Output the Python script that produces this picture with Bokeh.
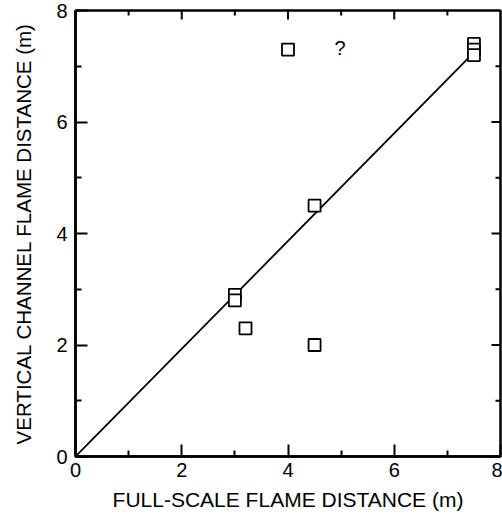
from bokeh.plotting import figure
from bokeh.models import FixedTicker, Range1d
from bokeh.core.properties import value
from bokeh.embed import file_html
from bokeh.resources import INLINE

# data
full_scale = [4.0, 7.5, 7.5, 7.5, 4.5, 3.0, 3.0, 3.2, 4.5]
vertical_channel = [7.3, 7.4, 7.3, 7.2, 4.5, 2.9, 2.8, 2.3, 2.0]
fit_x = [0.0, 7.45]
fit_y = [0.0, 7.2]
major_ticks = [0, 2, 4, 6, 8]
minor_ticks = [1, 3, 5, 7]
question_x = [4.98]
question_y = [7.33]

FONT = "Liberation Sans"
XMIN, XMAX, YMIN, YMAX = 0, 8, 0, 8

W, H = 502, 523
BL, BR, BT, BB = 75, 2, 10, 67
p = figure(width=W, height=H, output_backend="svg", toolbar_location=None,
           x_range=Range1d(XMIN, XMAX), y_range=Range1d(YMIN, YMAX),
           min_border_left=BL, min_border_right=BR, min_border_top=BT, min_border_bottom=BB)
p.grid.visible = False
p.outline_line_color = "black"
p.outline_line_width = 2.5

for ax in (p.xaxis[0], p.yaxis[0]):
    ax.ticker = FixedTicker(ticks=major_ticks, minor_ticks=minor_ticks)
    ax.axis_line_width = 2.5
    ax.axis_line_color = "black"
    ax.major_tick_in = 12
    ax.major_tick_out = 0
    ax.minor_tick_in = 6
    ax.minor_tick_out = 0
    ax.major_tick_line_width = 2
    ax.minor_tick_line_width = 2
    ax.major_tick_line_color = "black"
    ax.minor_tick_line_color = "black"
    ax.major_label_text_font = FONT
    ax.major_label_text_font_size = "20px"
    ax.major_label_text_color = "black"
    ax.axis_label_text_font = FONT
    ax.axis_label_text_font_style = "normal"
    ax.axis_label_text_color = "black"

p.xaxis[0].axis_label = "FULL-SCALE FLAME DISTANCE (m)"
p.yaxis[0].axis_label = "VERTICAL CHANNEL FLAME DISTANCE (m)"
p.xaxis[0].axis_label_text_font_size = "21px"
p.yaxis[0].axis_label_text_font_size = "20.5px"
p.xaxis[0].major_label_standoff = 6
p.yaxis[0].major_label_standoff = 8
p.xaxis[0].axis_label_standoff = 8
p.yaxis[0].axis_label_standoff = 18

# inward tick marks on the top and right edges, as rect markers in screen units
inner_major = [t for t in major_ticks if XMIN < t < XMAX]
inner_minor = list(minor_ticks)
for ticks, ln in ((inner_major, 9), (inner_minor, 5)):
    n = len(ticks)
    p.rect(x=ticks, y=[YMAX] * n, width=2, height=2 * ln,
           width_units="screen", height_units="screen",
           fill_color="black", line_color=None)
    p.rect(x=[XMAX] * n, y=ticks, width=2 * ln, height=2,
           width_units="screen", height_units="screen",
           fill_color="black", line_color=None)

p.line(fit_x, fit_y, line_color="black", line_width=1.8)
p.scatter(full_scale, vertical_channel, marker="square", size=12,
          fill_color="white", line_color="black", line_width=1.8)
p.text(question_x, question_y, text=["?"], text_font_size="20px",
       text_font=value(FONT), text_align="center", text_baseline="middle",
       text_color="black")

open("out.html", "w").write(file_html(p, INLINE))
